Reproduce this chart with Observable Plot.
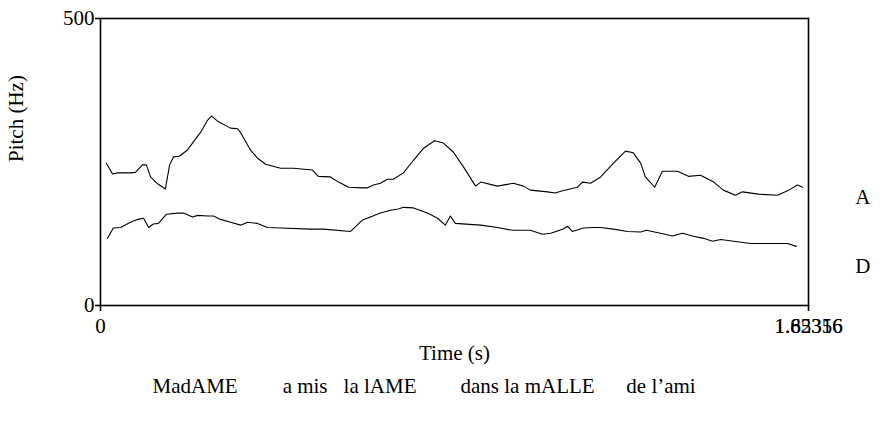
<!DOCTYPE html>
<html>
<head>
<meta charset="utf-8">
<script src="https://cdn.jsdelivr.net/npm/d3@7"></script>
<script src="https://cdn.jsdelivr.net/npm/@observablehq/plot@0.6"></script>
<style>
  html, body { margin: 0; padding: 0; background: #fff; }
</style>
</head>
<body>
<div id="chart"></div>
<script>
// Pitch track A (time in s, pitch in Hz)
const timeA = [0.015,0.031,0.044,0.077,0.090,0.108,0.118,0.129,0.147,0.167,0.178,0.188,0.203,0.224,0.258,0.276,0.286,0.304,0.335,0.353,0.361,0.386,0.404,0.425,0.464,0.497,0.546,0.561,0.592,0.613,0.639,0.677,0.688,0.703,0.721,0.739,0.754,0.780,0.806,0.832,0.860,0.883,0.909,0.935,0.966,0.979,1.022,1.063,1.089,1.107,1.151,1.172,1.185,1.228,1.241,1.262,1.288,1.321,1.352,1.372,1.391,1.403,1.427,1.447,1.486,1.514,1.545,1.579,1.604,1.635,1.653,1.694,1.743,1.772,1.795,1.808];
const pitchA = [248,229,231,231,232,245,245,224,212,203,245,259,260,271,302,323,330,320,309,308,301,271,257,246,239,239,236,225,224,215,206,205,205,210,213,220,220,231,253,274,287,283,267,241,208,215,208,213,208,201,198,196,199,206,215,213,224,248,269,266,248,224,206,234,234,225,227,215,201,192,198,194,192,201,210,206];

// Pitch track D
const timeD = [0.018,0.033,0.052,0.077,0.095,0.111,0.124,0.136,0.149,0.170,0.198,0.214,0.237,0.250,0.276,0.291,0.309,0.335,0.361,0.379,0.404,0.430,0.464,0.541,0.574,0.644,0.675,0.721,0.747,0.767,0.780,0.806,0.842,0.868,0.888,0.901,0.914,0.979,1.022,1.061,1.107,1.138,1.159,1.190,1.203,1.215,1.244,1.267,1.288,1.321,1.357,1.391,1.406,1.442,1.473,1.499,1.524,1.553,1.576,1.597,1.630,1.674,1.707,1.733,1.769,1.792];
const pitchD = [117,135,136,145,150,152,136,142,143,159,161,161,154,157,156,156,150,145,140,145,143,136,135,133,133,129,149,161,166,168,171,170,161,152,140,156,143,140,136,131,131,124,126,133,138,129,135,136,136,133,129,128,131,126,121,126,121,117,112,115,112,108,108,108,108,103];

const tMax = 1.82316;
const yTicks = [0, 500];
const endLabels = ["1.82316", "1.65356"];
const seriesLabels = ["A", "D"];
const seriesLabelPitch = [189, 68];
const words = ["MadAME", "a mis", "la lAME", "dans la mALLE", "de l\u2019ami"];
const wordTimes = [0.134, 0.469, 0.626, 0.927, 1.354];

const A = timeA.map((t, i) => ({t, f: pitchA[i]}));
const D = timeD.map((t, i) => ({t, f: pitchD[i]}));
const lbl = seriesLabels.map((s, i) => ({s, f: seriesLabelPitch[i]}));
const wd = words.map((w, i) => ({w, t: wordTimes[i]}));

const chart = Plot.plot({
  width: 882,
  height: 425,
  marginLeft: 100,
  marginRight: 74,
  marginTop: 18,
  marginBottom: 120,
  style: {fontFamily: "'Liberation Serif', 'Times New Roman', serif", fontSize: "21px", color: "#000", background: "#fff", overflow: "visible"},
  x: {domain: [0, tMax]},
  y: {domain: [0, 500]},
  marks: [
    Plot.frame({stroke: "#000", strokeWidth: 1.6}),
    Plot.axisY({ticks: yTicks, tickSize: 5, tickPadding: 1, label: null, fontSize: 21, strokeWidth: 1.6}),
    Plot.axisX({ticks: [0, tMax], tickSize: 6, tickPadding: 3, tickFormat: () => "", label: null, strokeWidth: 1.6}),
    Plot.text([0], {x: d => d, frameAnchor: "bottom", dy: 27, text: d => "0", fontSize: 21}),
    Plot.text(endLabels, {x: () => tMax, frameAnchor: "bottom", dy: 27, text: d => d, fontSize: 21}),
    Plot.line(A, {x: "t", y: "f", stroke: "#000", strokeWidth: 1.1}),
    Plot.line(D, {x: "t", y: "f", stroke: "#000", strokeWidth: 1.1}),
    Plot.text(lbl, {y: "f", text: "s", frameAnchor: "right", dx: 62, fontSize: 21}),
    Plot.text(["Time (s)"], {frameAnchor: "bottom", dy: 54, text: d => d, fontSize: 21}),
    Plot.text(["Pitch (Hz)"], {frameAnchor: "left", dx: -84, rotate: -90, text: d => d, fontSize: 21}),
    Plot.text(wd, {x: "t", text: "w", frameAnchor: "bottom", dy: 87, textAnchor: "start", fontSize: 21})
  ]
});
document.getElementById("chart").appendChild(chart);
</script>
</body>
</html>
